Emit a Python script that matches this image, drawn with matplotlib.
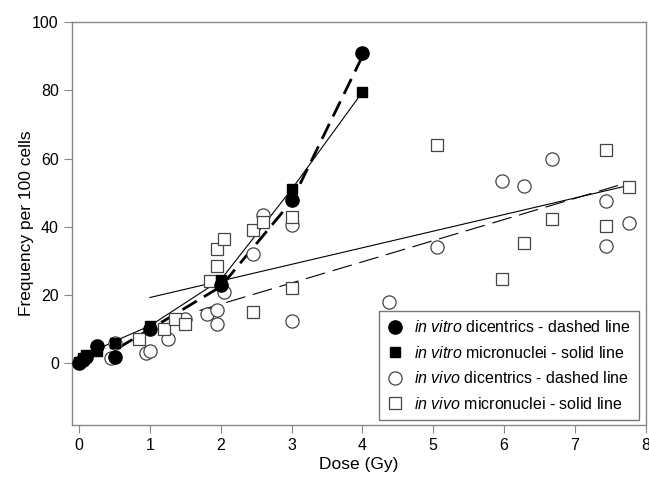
import numpy as np
import matplotlib.pyplot as plt

plt.rcParams['font.family'] = ['Liberation Sans', 'DejaVu Sans']
plt.rcParams['mathtext.fontset'] = 'custom'
plt.rcParams['mathtext.it'] = 'Liberation Sans:italic'
plt.rcParams['mathtext.rm'] = 'Liberation Sans'

# in vitro dicentrics (filled circles)
vitro_dic_dose = [0.0, 0.05, 0.1, 0.25, 0.5, 1.0, 2.0, 3.0, 4.0]
vitro_dic_freq = [0.0, 1.0, 2.0, 5.0, 2.0, 10.0, 23.0, 48.0, 91.0]

# in vitro micronuclei (filled squares)
vitro_mn_dose = [0.0, 0.05, 0.1, 0.25, 0.5, 1.0, 2.0, 3.0, 4.0]
vitro_mn_freq = [0.5, 1.5, 2.5, 3.5, 6.0, 11.0, 24.5, 51.0, 79.5]

# in vivo dicentrics (open circles)
vivo_dic_dose = [0.45, 0.5, 0.95, 1.0, 1.25, 1.5, 1.8, 1.95, 1.95, 2.05, 2.45, 2.6,
                 3.0, 3.0, 4.37, 5.05, 5.97, 6.28, 6.67, 7.44, 7.44, 7.76]
vivo_dic_freq = [1.5, 6.0, 3.0, 3.5, 7.0, 13.0, 14.5, 15.5, 11.5, 21.0, 32.0, 43.5,
                 40.5, 12.5, 18.0, 34.0, 53.5, 52.0, 60.0, 47.7, 34.5, 41.2]

# in vivo micronuclei (open squares)
vivo_mn_dose = [0.85, 1.2, 1.35, 1.5, 1.85, 1.95, 1.95, 2.05, 2.45, 2.45, 2.6,
                3.0, 3.0, 5.05, 5.97, 6.28, 6.67, 7.44, 7.44, 7.76]
vivo_mn_freq = [7.0, 10.0, 13.0, 11.5, 24.0, 28.5, 33.5, 36.5, 15.0, 39.0, 41.5,
                43.0, 22.0, 64.0, 24.8, 35.4, 42.4, 62.6, 40.3, 51.8]

# fitted lines as drawn in the figure
vitro_dic_line_x = [0.55, 1.0, 2.0, 3.0, 4.0]
vitro_dic_line_y = [4.5, 10.0, 22.5, 47.5, 90.0]
vitro_mn_line_x = [0.0, 0.25, 0.5, 1.0, 2.0, 3.0, 4.0]
vitro_mn_line_y = [0.5, 4.0, 6.5, 11.0, 24.5, 51.0, 79.5]
vivo_dic_line_x = [1.7, 7.75]
vivo_dic_line_y = [15.5, 53.0]
vivo_mn_line_x = [1.0, 7.75]
vivo_mn_line_y = [19.3, 52.1]

fig = plt.figure(figsize=(6.49, 4.8), dpi=100)
ax = fig.add_axes([0.111, 0.115, 0.884, 0.839])

# lines
ax.plot(vivo_mn_line_x, vivo_mn_line_y, color='black', lw=0.8, zorder=2)
ax.plot(vivo_dic_line_x, vivo_dic_line_y, color='black', lw=0.8,
        dashes=(18, 7), zorder=2)
ax.plot(vitro_mn_line_x, vitro_mn_line_y, color='black', lw=0.8, zorder=2)
ax.plot(vitro_dic_line_x, vitro_dic_line_y, color='black', lw=2.0,
        dashes=(6, 3), zorder=2)

# markers
ax.plot(vivo_dic_dose, vivo_dic_freq, 'o', ms=9.5, mfc='white', mec='#444444',
        mew=0.9, ls='none', zorder=3,
        label=r'$\it{in\ vivo}$ dicentrics - dashed line')
ax.plot(vivo_mn_dose, vivo_mn_freq, 's', ms=8.5, mfc='white', mec='#444444',
        mew=0.9, ls='none', zorder=3,
        label=r'$\it{in\ vivo}$ micronuclei - solid line')
ax.plot(vitro_dic_dose, vitro_dic_freq, 'o', ms=9.5, color='black', ls='none',
        zorder=4, label=r'$\it{in\ vitro}$ dicentrics - dashed line')
ax.plot(vitro_mn_dose, vitro_mn_freq, 's', ms=7.5, color='black', ls='none',
        zorder=4, label=r'$\it{in\ vitro}$ micronuclei - solid line')

ax.set_xlim(-0.1, 8)
ax.set_ylim(-18, 100)
ax.set_xticks(range(0, 9))
ax.set_yticks([0, 20, 40, 60, 80, 100])

for s in ax.spines.values():
    s.set_color('#888888')
    s.set_linewidth(1)
ax.tick_params(direction='out', length=6, color='#888888', labelsize=11.5,
               labelcolor='black')

ax.set_xlabel('Dose (Gy)', fontsize=12.5, labelpad=3)
ax.set_ylabel('Frequency per 100 cells', fontsize=12.5, labelpad=-1)

handles, labels = ax.get_legend_handles_labels()
order = [2, 3, 0, 1]
leg = ax.legend([handles[i] for i in order], [labels[i] for i in order],
                loc='lower right', bbox_to_anchor=(0.993, 0.004), fontsize=11.5,
                frameon=True, fancybox=False, handlelength=1.0,
                handletextpad=0.7, borderpad=0.5, labelspacing=0.6,
                borderaxespad=0.2)
leg.get_frame().set_edgecolor('#555555')
leg.get_frame().set_linewidth(1)

fig.savefig('out.png', dpi=100)
